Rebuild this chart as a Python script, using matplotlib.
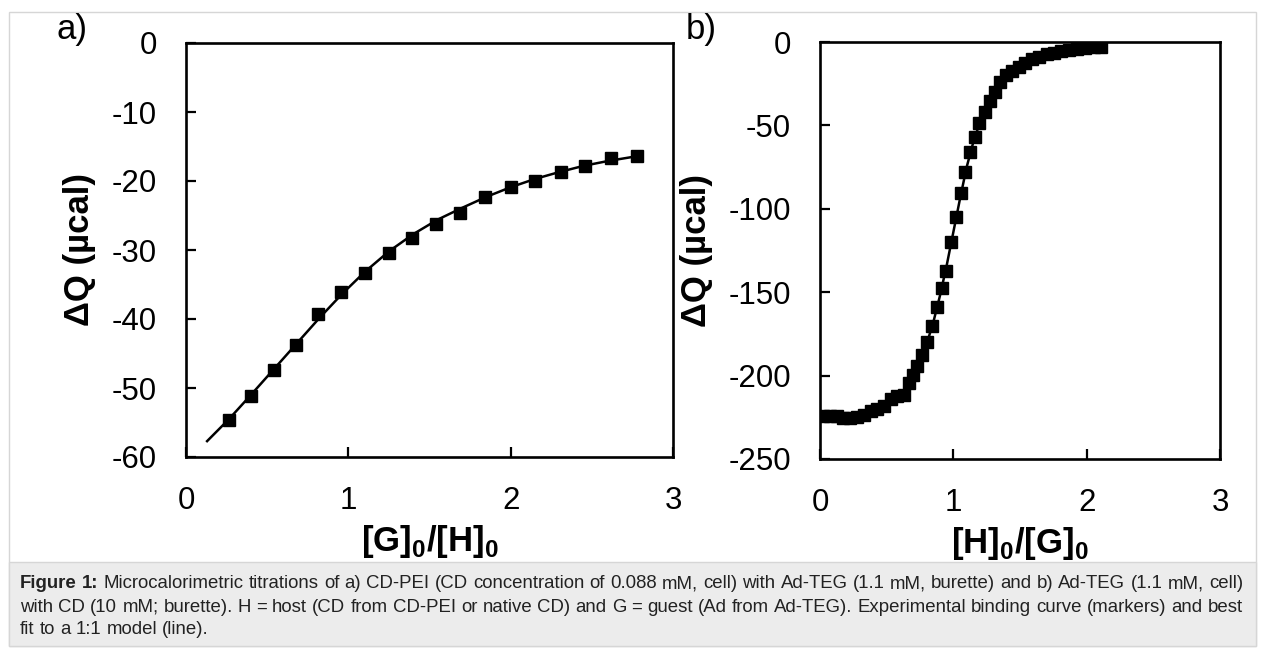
import matplotlib
matplotlib.use("Agg")
import numpy as np
import matplotlib.pyplot as plt
from matplotlib.patches import Rectangle

plt.rcParams['font.family'] = ['Liberation Sans', 'DejaVu Sans']
plt.rcParams['mathtext.fontset'] = 'custom'
plt.rcParams['mathtext.rm'] = 'Liberation Sans'
plt.rcParams['mathtext.bf'] = 'Liberation Sans:bold'
plt.rcParams['axes.unicode_minus'] = False

# panel a: CD-PEI titrated with Ad-TEG
a_x = [0.265, 0.40, 0.54, 0.68, 0.815, 0.957, 1.105, 1.25, 1.39, 1.54, 1.69,
       1.84, 2.0, 2.15, 2.31, 2.46, 2.62, 2.78]
a_y = [-54.6, -51.2, -47.4, -43.8, -39.3, -36.1, -33.3, -30.5, -28.2, -26.3, -24.7,
       -22.3, -20.8, -20.0, -18.7, -17.8, -16.7, -16.4]
a_fit_x = [0.13, 0.265, 0.40, 0.54, 0.68, 0.82, 0.96, 1.10, 1.25, 1.40, 1.55, 1.70,
           1.85, 2.00, 2.15, 2.30, 2.45, 2.60, 2.78]
a_fit_y = [-57.7, -54.5, -51.0, -47.3, -43.6, -39.9, -36.4, -33.2, -30.2, -27.7, -25.6,
           -23.9, -22.3, -20.9, -19.7, -18.7, -17.8, -17.1, -16.4]

# panel b: Ad-TEG titrated with CD
b_x = [0.025, 0.075, 0.125, 0.175, 0.225, 0.275, 0.33, 0.38, 0.43, 0.48, 0.53,
       0.577, 0.627, 0.665, 0.70, 0.73, 0.767, 0.80, 0.842, 0.877, 0.914, 0.947,
       0.98, 1.018, 1.058, 1.09, 1.128, 1.16, 1.195, 1.235, 1.273, 1.31, 1.353,
       1.398, 1.44, 1.49, 1.54, 1.59, 1.64, 1.70, 1.755, 1.805, 1.87, 1.93, 1.99,
       2.055, 2.11]
b_y = [-224.5, -224.5, -224.5, -225.5, -225.5, -225.0, -223.5, -221.5, -220.0, -218.5, -214.0,
       -212.5, -211.5, -204.5, -199.5, -194.3, -187.5, -180.0, -170.5, -159.0, -147.5, -137.5,
       -119.8, -104.8, -90.8, -77.7, -66.0, -56.7, -48.3, -41.7, -35.3, -29.8, -23.8,
       -19.8, -17.2, -14.8, -12.4, -10.4, -8.8, -7.2, -6.4, -5.4, -4.8, -4.4, -3.8,
       -3.2, -3.0]
b_fit_x = [0.03, 0.2, 0.4, 0.5, 0.6, 0.7, 0.8, 0.85, 0.9, 0.95, 1.0, 1.05, 1.1,
           1.15, 1.2, 1.3, 1.4, 1.5, 1.6, 1.7, 1.8, 1.9, 2.0, 2.11]
b_fit_y = [-225.0, -224.5, -221.5, -218.0, -212.0, -201.0, -181.0, -168.0, -152.0, -134.0,
           -114.0, -94.0, -75.0, -60.0, -48.0, -32.0, -21.5, -15.0, -10.8, -8.0, -6.2,
           -5.0, -4.1, -3.3]

caption_lines = [
    ("Figure 1:", " Microcalorimetric titrations of a) CD-PEI (CD concentration of 0.088 mM, cell) "
                  "with Ad-TEG (1.1 mM, burette) and b) Ad-TEG (1.1 mM, cell)"),
    ("", "with CD (10 mM; burette). H = host (CD from CD-PEI or native CD) and G = guest "
         "(Ad from Ad-TEG). Experimental binding curve (markers) and best"),
    ("", "fit to a 1:1 model (line)."),
]

W, H = 1265, 648
fig = plt.figure(figsize=(W / 100, H / 100), dpi=100)

# frame and caption box, behind the axes
frame = Rectangle((9 / W, 1 - 646 / H), 1247 / W, 634 / H, transform=fig.transFigure,
                  facecolor='white', edgecolor='#d6d6d6', lw=1.0, zorder=-2)
capbox = Rectangle((9 / W, 1 - 646 / H), 1247 / W, 84 / H, transform=fig.transFigure,
                   facecolor='#ececec', edgecolor='#d6d6d6', lw=1.0, zorder=-1)
fig.add_artist(frame)
fig.add_artist(capbox)


def style(ax, ylim, yticks):
    ax.set_xlim(0, 3)
    ax.set_ylim(*ylim)
    ax.set_xticks([0, 1, 2, 3])
    ax.set_yticks(yticks)
    ax.patch.set_alpha(0)
    for s in ax.spines.values():
        s.set_linewidth(1.9)
    ax.tick_params(direction='in', length=7, width=1.6, labelsize=22.5, colors='black')
    ax.tick_params(axis='y', pad=21)
    ax.tick_params(axis='x', pad=21)
    ax.set_ylabel('ΔQ (µcal)', fontsize=25, fontweight='bold', labelpad=11)


ax1 = fig.add_axes([186 / W, 1 - 457 / H, 487 / W, 414 / H])
ax1.plot(a_fit_x, a_fit_y, color='black', lw=1.8)
ax1.plot(a_x, a_y, 's', color='black', ms=9)
style(ax1, (-60, 0), range(-60, 1, 10))
ax1.set_xlabel('[G]$_\\mathbf{0}$/[H]$_\\mathbf{0}$', fontsize=25, fontweight='bold', labelpad=5)

ax2 = fig.add_axes([820 / W, 1 - 459 / H, 400 / W, 417 / H])
ax2.plot(b_fit_x, b_fit_y, color='black', lw=1.8)
ax2.plot(b_x, b_y, 's', color='black', ms=9)
style(ax2, (-250, 0), range(-250, 1, 50))
ax2.set_xlabel('[H]$_\\mathbf{0}$/[G]$_\\mathbf{0}$', fontsize=25, fontweight='bold', labelpad=5)

fig.text(72 / W, 1 - 30 / H, 'a)', fontsize=25, ha='center', va='center')
fig.text(701 / W, 1 - 30 / H, 'b)', fontsize=25, ha='center', va='center')

# caption: size chosen so line 1 fills the box, then lines 1-2 justified
renderer = fig.canvas.get_renderer()
left, right = 20, 1243
probe = fig.text(0, 0, caption_lines[0][0] + caption_lines[0][1], fontsize=10)
cap_size = 10 * (right - left) / probe.get_window_extent(renderer).width
probe.remove()

line_y = [584, 607, 629]
for i, (bold, rest) in enumerate(caption_lines):
    words = []
    if bold:
        words += [(w, 'bold') for w in bold.split()]
    words += [(w, 'normal') for w in rest.split()]
    texts = [fig.text(0, 1 - line_y[i] / H, w, fontsize=cap_size, fontweight=fw,
                      color='#222222', va='center', ha='left') for w, fw in words]
    widths = [t.get_window_extent(renderer).width for t in texts]
    space = fig.text(0, 0, 'a a', fontsize=cap_size)
    sp = space.get_window_extent(renderer).width
    space.set_text('aa')
    sp -= space.get_window_extent(renderer).width
    space.remove()
    if i < len(caption_lines) - 1:
        gap = (right - left - sum(widths)) / (len(texts) - 1)
    else:
        gap = sp
    x = left
    for t, w in zip(texts, widths):
        t.set_x(x / W)
        x += w + gap

fig.savefig('out.png', dpi=100)
